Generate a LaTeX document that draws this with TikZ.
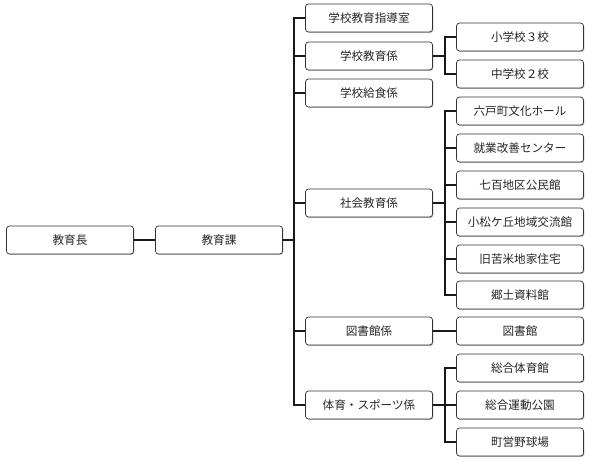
\documentclass[tikz,border=0pt]{standalone}
\usepackage{fontspec}
\setmainfont{Noto Sans CJK JP}
\usetikzlibrary{shadows}
\begin{document}
\begin{tikzpicture}[x=1pt,y=-1pt,
  box/.style={draw=black!80, line width=0.7pt, rounded corners=3pt, fill=white,
    minimum width=127pt, minimum height=28pt, inner sep=0pt,
    font=\fontsize{11.6}{13}\selectfont, text=black!85,
    drop shadow={shadow xshift=0.9pt, shadow yshift=-0.9pt, opacity=0.45, fill=black!60}},
  conn/.style={draw=black!90, line width=1.1pt}]
\useasboundingbox (0,0) rectangle (589,461);
% level 0/1
\node[box] (cho) at (70,240) {教育長};
\node[box] (ka) at (219,240) {教育課};
% level 2
\node[box] (s1) at (369,18) {学校教育指導室};
\node[box] (s2) at (369,56) {学校教育係};
\node[box] (s3) at (369,93) {学校給食係};
\node[box] (s4) at (369,203) {社会教育係};
\node[box] (s5) at (369,331) {図書館係};
\node[box] (s6) at (369,405) {体育・スポーツ係};
% level 3
\node[box] (c1) at (520,37) {小学校３校};
\node[box] (c2) at (520,74) {中学校２校};
\node[box] (c3) at (520,111) {六戸町文化ホール};
\node[box] (c4) at (520,148) {就業改善センター};
\node[box] (c5) at (520,185) {七百地区公民館};
\node[box] (c6) at (520,222) {小松ケ丘地域交流館};
\node[box] (c7) at (520,259) {旧苦米地家住宅};
\node[box] (c8) at (520,295) {郷土資料館};
\node[box] (c9) at (520,331) {図書館};
\node[box] (c10) at (520,368) {総合体育館};
\node[box] (c11) at (520,405) {総合運動公園};
\node[box] (c12) at (520,442) {町営野球場};
% connectors
\coordinate (T) at (294,240);
\draw[conn] (cho.east) -- (ka.west);
\draw[conn] (ka.east) -- (T);
\foreach \n in {s1,s2,s3,s4,s5,s6} \draw[conn] (\n.west) -| (T);
\coordinate (B2) at (445,56);
\draw[conn] (s2.east) -- (B2);
\foreach \n in {c1,c2} \draw[conn] (B2) |- (\n.west);
\coordinate (B4) at (445,203);
\draw[conn] (s4.east) -- (B4);
\foreach \n in {c3,c4,c5,c6,c7,c8} \draw[conn] (B4) |- (\n.west);
\draw[conn] (s5.east) -- (c9.west);
\coordinate (B6) at (445,405);
\draw[conn] (s6.east) -- (B6);
\foreach \n in {c10,c11,c12} \draw[conn] (B6) |- (\n.west);
\end{tikzpicture}
\end{document}
